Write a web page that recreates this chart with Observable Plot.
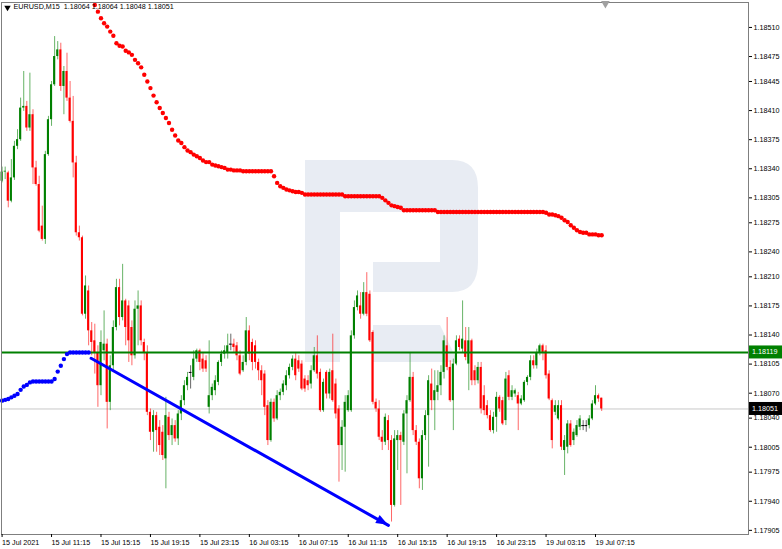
<!DOCTYPE html>
<html><head><meta charset="utf-8">
<script src="https://cdn.jsdelivr.net/npm/d3@7"></script>
<script src="https://cdn.jsdelivr.net/npm/@observablehq/plot@0.6"></script>
<style>
html,body{margin:0;padding:0;background:#fff;}
#chart{width:782px;height:549px;overflow:hidden;}
</style></head><body><div id="chart"></div>
<script>
const titleText = "EURUSD,M15  1.18064 1.18064 1.18048 1.18051";
const opens = [1.18325,1.18336,1.18335,1.18301,1.18329,1.18367,1.18375,1.18413,1.18415,1.18389,
1.18405,1.18341,1.18321,1.18271,1.18255,1.18357,1.18399,1.18441,1.18475,1.18483,
1.18439,1.18457,1.18425,1.18397,1.18347,1.18263,1.18257,1.18165,1.18193,1.18145,
1.18133,1.18119,1.18079,1.18121,1.18129,1.18059,1.18103,1.18149,1.18197,1.18161,
1.18181,1.18175,1.18149,1.18115,1.18171,1.18175,1.18131,1.18119,1.18047,1.18023,
1.18043,1.18029,1.18023,1.17991,1.18041,1.18019,1.18031,1.18015,1.18045,1.18061,
1.18079,1.18095,1.18089,1.18111,1.18121,1.18111,1.18109,1.18053,1.18067,1.18073,
1.18083,1.18107,1.18117,1.18119,1.18129,1.18129,1.18127,1.18115,1.18097,1.18107,
1.18145,1.18131,1.18127,1.18107,1.18097,1.18093,1.18055,1.18013,1.18059,1.18039,
1.18067,1.18071,1.18079,1.18091,1.18101,1.18111,1.18109,1.18105,1.18087,1.18085,
1.18081,1.18097,1.18115,1.18095,1.18049,1.18095,1.18069,1.18097,1.18081,1.18051,
1.18007,1.18029,1.18049,1.18049,1.18139,1.18173,1.18175,1.18165,1.18191,1.18189,
1.18143,1.18059,1.18051,1.18017,1.18011,1.18037,1.18013,1.17935,1.18013,1.18019,
1.18011,1.18045,1.18061,1.18089,1.18025,1.18011,1.17967,1.18019,1.18043,1.18081,
1.18061,1.18071,1.18079,1.18095,1.18127,1.18101,1.18061,1.18105,1.18135,1.18123,
1.18133,1.18105,1.18133,1.18097,1.18085,1.18101,1.18067,1.18055,1.18043,1.18025,
1.18041,1.18065,1.18061,1.18037,1.18091,1.18065,1.18069,1.18067,1.18057,1.18061,
1.18083,1.18089,1.18109,1.18103,1.18119,1.18127,1.18121,1.18093,1.18061,1.18047,
1.18039,1.18055,1.18001,1.18005,1.18033,1.18013,1.18019,1.18029,1.18031,1.18031,
1.18031,1.18039,1.18057,1.18067,1.18064];
const highs = [1.18342,1.18342,1.18337,1.18351,1.18373,1.18387,1.18425,1.18457,1.18421,1.18455,
1.18411,1.18349,1.18331,1.18295,1.18361,1.18403,1.18445,1.18499,1.18493,1.18491,
1.18463,1.18479,1.18445,1.18427,1.18355,1.18271,1.18259,1.18211,1.18199,1.18155,
1.18153,1.18127,1.18145,1.18169,1.18135,1.18115,1.18157,1.18207,1.18207,1.18225,
1.18183,1.18181,1.18157,1.18181,1.18193,1.18181,1.18135,1.18127,1.18051,1.18049,
1.18047,1.18037,1.18031,1.18065,1.18047,1.18039,1.18037,1.18049,1.18067,1.18085,
1.18095,1.18103,1.18121,1.18123,1.18123,1.18119,1.18115,1.18133,1.18081,1.18091,
1.18109,1.18121,1.18127,1.18141,1.18141,1.18135,1.18131,1.18121,1.18115,1.18161,
1.18151,1.18135,1.18133,1.18111,1.18103,1.18097,1.18061,1.18063,1.18063,1.18073,
1.18075,1.18085,1.18097,1.18105,1.18115,1.18119,1.18115,1.18109,1.18091,1.18091,
1.18103,1.18125,1.18139,1.18099,1.18087,1.18097,1.18099,1.18141,1.18087,1.18055,
1.18037,1.18067,1.18073,1.18145,1.18181,1.18193,1.18191,1.18203,1.18215,1.18193,
1.18145,1.18063,1.18061,1.18025,1.18045,1.18043,1.18019,1.18025,1.18025,1.18023,
1.18049,1.18067,1.18119,1.18095,1.18031,1.18015,1.18025,1.18049,1.18091,1.18099,
1.18097,1.18097,1.18103,1.18139,1.18161,1.18109,1.18111,1.18139,1.18139,1.18181,
1.18149,1.18149,1.18135,1.18103,1.18107,1.18107,1.18079,1.18061,1.18049,1.18047,
1.18071,1.18067,1.18065,1.18095,1.18097,1.18079,1.18075,1.18071,1.18067,1.18085,
1.18091,1.18115,1.18115,1.18123,1.18129,1.18129,1.18127,1.18097,1.18063,1.18061,
1.18061,1.18061,1.18019,1.18037,1.18037,1.18027,1.18037,1.18043,1.18037,1.18037,
1.18043,1.18061,1.18079,1.18069,1.18064];
const lows = [1.18323,1.18327,1.18293,1.18299,1.18326,1.18363,1.18373,1.18409,1.18385,1.18385,
1.18321,1.18319,1.18263,1.18253,1.18249,1.18355,1.18391,1.18439,1.18471,1.18433,
1.18405,1.18421,1.18395,1.18329,1.18259,1.18253,1.18163,1.18159,1.18127,1.18115,
1.18093,1.18053,1.18067,1.18109,1.18027,1.18049,1.18097,1.18145,1.18151,1.18157,
1.18127,1.18107,1.18103,1.18111,1.18127,1.18127,1.18109,1.18043,1.18013,1.17999,
1.17999,1.17995,1.17989,1.17955,1.18013,1.18007,1.18011,1.18007,1.18037,1.18055,
1.18073,1.18075,1.18085,1.18107,1.18097,1.18095,1.18095,1.18045,1.18061,1.18067,
1.18079,1.18102,1.18111,1.18111,1.18121,1.18119,1.18109,1.18091,1.18095,1.18103,
1.18109,1.18097,1.18099,1.18085,1.18067,1.18043,1.18007,1.18011,1.18035,1.18037,
1.18061,1.18067,1.18073,1.18087,1.18097,1.18085,1.18095,1.18073,1.18071,1.18073,
1.18075,1.18095,1.18087,1.18047,1.18047,1.18063,1.18063,1.18059,1.18039,1.17963,
1.17977,1.17975,1.18047,1.18047,1.18135,1.18169,1.18159,1.18163,1.18162,1.18131,
1.18056,1.18047,1.18013,1.18001,1.18007,1.18001,1.17915,1.17933,1.17977,1.17935,
1.18007,1.17973,1.18059,1.18019,1.18007,1.17955,1.17953,1.18013,1.17981,1.18049,
1.18025,1.18061,1.18067,1.18087,1.18097,1.18059,1.18025,1.18103,1.18121,1.18119,
1.18109,1.18073,1.18079,1.18079,1.18081,1.18045,1.18043,1.18039,1.18023,1.18021,
1.18023,1.18047,1.18031,1.18031,1.18061,1.18061,1.18065,1.18025,1.18055,1.18059,
1.18079,1.18085,1.18099,1.18099,1.18115,1.18109,1.18087,1.18061,1.18003,1.18043,
1.18037,1.18001,1.17971,1.17997,1.18005,1.18007,1.18017,1.18025,1.18025,1.18023,
1.18027,1.18037,1.18055,1.18059,1.18048];
const closes = [1.18336,1.18337,1.18301,1.18329,1.18367,1.18375,1.18413,1.18415,1.18389,1.18405,
1.18341,1.18321,1.18265,1.18255,1.18357,1.18399,1.18441,1.18475,1.18483,1.18439,
1.18457,1.18425,1.18397,1.18347,1.18263,1.18257,1.18165,1.18199,1.18145,1.18131,
1.18119,1.18079,1.18131,1.18129,1.18059,1.18103,1.18149,1.18197,1.18161,1.18181,
1.18149,1.18133,1.18115,1.18171,1.18175,1.18133,1.18119,1.18047,1.18023,1.18043,
1.18025,1.18007,1.17995,1.18043,1.18019,1.18031,1.18015,1.18045,1.18061,1.18079,
1.18089,1.18095,1.18111,1.18121,1.18107,1.18099,1.18099,1.18067,1.18077,1.18085,
1.18107,1.18117,1.18121,1.18127,1.18129,1.18125,1.18115,1.18093,1.18107,1.18145,
1.18117,1.18107,1.18107,1.18097,1.18085,1.18053,1.18013,1.18059,1.18039,1.18067,
1.18071,1.18081,1.18091,1.18101,1.18111,1.18091,1.18099,1.18075,1.18075,1.18079,
1.18097,1.18115,1.18093,1.18049,1.18083,1.18069,1.18095,1.18061,1.18045,1.18007,
1.18029,1.18059,1.18067,1.18139,1.18173,1.18187,1.18165,1.18191,1.18165,1.18133,
1.18059,1.18051,1.18017,1.18011,1.18041,1.18013,1.17935,1.18015,1.18019,1.18013,
1.18045,1.18061,1.18089,1.18025,1.18011,1.17967,1.18019,1.18043,1.18085,1.18061,
1.18073,1.18079,1.18095,1.18133,1.18101,1.18061,1.18105,1.18133,1.18125,1.18135,
1.18113,1.18133,1.18085,1.18085,1.18101,1.18051,1.18049,1.18043,1.18025,1.18041,
1.18065,1.18051,1.18033,1.18087,1.18065,1.18073,1.18073,1.18057,1.18063,1.18083,
1.18089,1.18109,1.18103,1.18119,1.18127,1.18119,1.18091,1.18063,1.18013,1.18055,
1.18055,1.18005,1.18013,1.18033,1.18007,1.18023,1.18031,1.18039,1.18031,1.18031,
1.18039,1.18057,1.18067,1.18063,1.18051];

const sarBlueStart = 0;
const sarBlue = [1.18061,1.18062,1.18063,1.18065,1.18067,1.18069,1.18074,1.18078,1.18080,1.18083,
1.18084,1.18084,1.18084,1.18084,1.18084,1.18084,1.18084,1.18087,1.18096,1.18103,
1.18111,1.18117,1.18119,1.18119,1.18119,1.18119,1.18119,1.18119,1.18119];
const sarRedStart = 30;
const sarRed = [1.18537,1.18529,1.18521,1.18515,1.18511,1.18505,1.18500,1.18491,1.18488,1.18487,
1.18482,1.18480,1.18477,1.18471,1.18467,1.18462,1.18453,1.18445,1.18437,1.18428,
1.18420,1.18413,1.18407,1.18401,1.18395,1.18387,1.18380,1.18374,1.18371,1.18366,
1.18362,1.18360,1.18357,1.18355,1.18353,1.18350,1.18348,1.18348,1.18345,1.18344,
1.18343,1.18342,1.18341,1.18339,1.18339,1.18338,1.18338,1.18338,1.18337,1.18337,
1.18337,1.18337,1.18337,1.18337,1.18337,1.18337,1.18337,1.18337,1.18331,1.18323,
1.18319,1.18317,1.18315,1.18314,1.18313,1.18312,1.18312,1.18311,1.18309,1.18309,
1.18309,1.18309,1.18309,1.18309,1.18309,1.18309,1.18309,1.18309,1.18309,1.18309,
1.18309,1.18307,1.18307,1.18307,1.18307,1.18307,1.18307,1.18307,1.18307,1.18307,
1.18307,1.18307,1.18307,1.18305,1.18302,1.18299,1.18296,1.18295,1.18294,1.18293,
1.18290,1.18290,1.18290,1.18290,1.18290,1.18290,1.18290,1.18290,1.18290,1.18290,
1.18290,1.18288,1.18288,1.18288,1.18288,1.18288,1.18288,1.18288,1.18288,1.18288,
1.18288,1.18288,1.18288,1.18288,1.18288,1.18288,1.18288,1.18288,1.18288,1.18288,
1.18288,1.18288,1.18288,1.18288,1.18288,1.18288,1.18288,1.18288,1.18288,1.18288,
1.18288,1.18288,1.18288,1.18288,1.18288,1.18288,1.18287,1.18285,1.18285,1.18284,
1.18283,1.18281,1.18278,1.18276,1.18272,1.18269,1.18266,1.18264,1.18263,1.18263,
1.18261,1.18261,1.18261,1.18260,1.18260];

const yTicks = [1.18510,1.18475,1.18445,1.18410,1.18375,1.18340,1.18305,1.18275,1.18240,1.18210,
1.18175,1.18140,1.18105,1.18070,1.18040,1.18005,1.17975,1.17940,1.17905];
const xTickBars = [0,16,32,48,64,80,96,112,128,144,160,176,192];
const xTickLabels = ["15 Jul 2021","15 Jul 11:15","15 Jul 15:15","15 Jul 19:15","15 Jul 23:15",
"16 Jul 03:15","16 Jul 07:15","16 Jul 11:15","16 Jul 15:15","16 Jul 19:15","16 Jul 23:15",
"19 Jul 03:15","19 Jul 07:15"];
const levelPrice = 1.18119;
const bidPrice = 1.18051;
const trendBars = [28.8, 125.0];
const trendPrices = [1.18112, 1.17911];
const shiftBar = 195.2;

const bars = opens.map((o, i) => ({i, open: o, high: highs[i], low: lows[i], close: closes[i]}));
const up = bars.filter(d => d.close > d.open);
const down = bars.filter(d => d.close < d.open);
const flat = bars.filter(d => d.close === d.open);
const wickColor = d => d.close > d.open ? "#008000" : d.close < d.open ? "#ff0000" : "#000000";
const blueDots = sarBlue.map((v, k) => ({i: sarBlueStart + k, v}));
const redDots = sarRed.map((v, k) => ({i: sarRedStart + k, v}));
const trend = trendBars.map((b, k) => ({i: b, p: trendPrices[k]}));

const chart = Plot.plot({
  width: 782, height: 549,
  marginLeft: 1, marginRight: 34, marginTop: 2, marginBottom: 15,
  x: {type: "linear", domain: [-0.19, 241.5]},
  y: {domain: [1.17900, 1.18540]},
  style: {fontFamily: "'Liberation Sans', Arial, sans-serif", fontSize: "7.2px", color: "#000", background: "#fff"},
  marks: [
    Plot.ruleY([bidPrice], {stroke: "#c8c8c8", strokeWidth: 1}),
    Plot.ruleX(bars, {x: "i", y1: "low", y2: "high", stroke: wickColor, strokeWidth: 1, strokeOpacity: 0.6}),
    Plot.rect(up, {x1: d => d.i - 0.34, x2: d => d.i + 0.34, y1: "open", y2: "close", fill: "#008000"}),
    Plot.rect(down, {x1: d => d.i - 0.34, x2: d => d.i + 0.34, y1: "open", y2: "close", fill: "#ff0000"}),
    Plot.ruleY(flat, {y: "close", x1: d => d.i - 0.45, x2: d => d.i + 0.45, stroke: "#000"}),
    Plot.ruleY([levelPrice], {stroke: "#008000", strokeWidth: 2}),
    Plot.dot(blueDots, {x: "i", y: "v", r: 2.2, fill: "#0000ff"}),
    Plot.dot(redDots, {x: "i", y: "v", r: 2.2, fill: "#ff0000"}),
    Plot.line(trend, {x: "i", y: "p", stroke: "#0000ff", strokeWidth: 3}),
    Plot.frame({stroke: "#7f7f7f"}),
    Plot.axisY({anchor: "right", ticks: yTicks, tickFormat: d => d.toFixed(5), tickSize: 3, tickPadding: 2, label: null}),
    Plot.axisX({anchor: "bottom", ticks: xTickBars, tickFormat: d => xTickLabels[xTickBars.indexOf(d)], tickSize: 3, tickPadding: 2, textAnchor: "start", label: null}),
    Plot.dot([shiftBar], {x: d => d, frameAnchor: "top", dy: 1, symbol: "triangle", r: 3.2, rotate: 180, fill: "#a0a0a0"}),
    Plot.dot([titleText], {frameAnchor: "top-left", dx: 6, dy: 5, symbol: "triangle", r: 2.4, rotate: 180, fill: "#000"}),
    Plot.text([titleText], {text: d => d, frameAnchor: "top-left", dx: 12, dy: 1, textAnchor: "start", lineAnchor: "top", fill: "#000"})
  ]
});
document.getElementById("chart").append(chart);

const sx = chart.scale("x"), sy = chart.scale("y");
const svg = d3.select(chart);

// watermark logo behind the marks
const wm = svg.insert("g", ":scope > g").attr("fill", "#e8ecf3");
wm.append("path").attr("d",
  "M305,160 H452 Q478,160 478,188 V262 Q478,292 452,292 H373 V262 H440 V212 H340 V362 H305 Z");
wm.append("path").attr("d", "M373,325 H440 L458,362 H373 Z");

// arrow head on trend line
const p1 = [sx.apply(trendBars[0]), sy.apply(trendPrices[0])];
const p2 = [sx.apply(trendBars[1]), sy.apply(trendPrices[1])];
const dx = p2[0] - p1[0], dy = p2[1] - p1[1], len = Math.hypot(dx, dy);
const ux = dx / len, uy = dy / len, L = 12, Wd = 4.5;
const bx = p2[0] - ux * L, by = p2[1] - uy * L;
svg.append("path")
  .attr("d", `M${p2[0]},${p2[1]}L${bx - uy * Wd},${by + ux * Wd}L${bx + uy * Wd},${by - ux * Wd}Z`)
  .attr("fill", "#0000ff");

// price labels on the right scale
function priceLabel(price, bg) {
  const y = sy.apply(price);
  const g = svg.append("g");
  g.append("rect").attr("x", 749).attr("y", y - 6.5).attr("width", 33).attr("height", 13).attr("fill", bg);
  g.append("text").attr("x", 752).attr("y", y).attr("dy", "0.35em").attr("fill", "#fff")
    .attr("text-anchor", "start").attr("font-size", "7.2px").text(price.toFixed(5));
}
priceLabel(levelPrice, "#008000");
priceLabel(bidPrice, "#000000");
</script>
</body></html>
